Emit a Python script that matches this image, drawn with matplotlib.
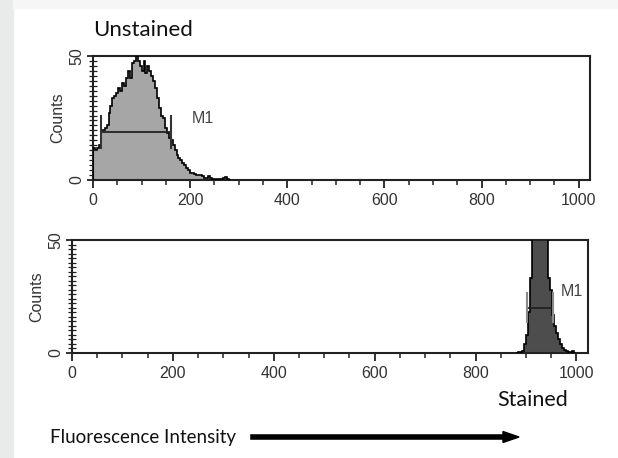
import numpy as np
import matplotlib.pyplot as plt
from matplotlib.ticker import MultipleLocator

# unstained histogram, channel width 4, starting at 0
unstained_start = 0
bin_w = 4
unstained_counts = [13, 12, 13, 14, 20, 20, 21, 22, 27, 30, 33, 34, 35, 37, 36, 39, 38, 41,
                    44, 41, 47, 48, 50, 48, 46, 44, 48, 43, 46, 44, 42, 40, 37, 33, 29, 26,
                    25, 21, 19, 17, 16, 14, 12, 10, 9, 8, 7, 6, 5, 4, 3, 3, 2.5, 2, 2, 2,
                    1.5, 1, 1, 1.5, 1, 0.5, 0.5, 0.3, 0.3, 0.5, 0.5, 0.8, 1.2, 0.3, 0]

# stained histogram, channel width 4, starting at 880
stained_start = 880
stained_counts = [0, 0.5, 0.3, 1, 4, 8, 18, 33, 70, 90, 95, 100, 90, 85, 70, 55, 33, 28,
                  17, 12, 9, 6, 4, 2, 1.5, 0.7, 0.3, 0.3, 1, 0]

# M1 gates: (left, right, height)
m1_unstained = (17, 161, 19.5)
m1_stained = (902, 953, 20)

xticks = [0, 200, 400, 600, 800, 1000]

plt.rcParams['font.family'] = ['Liberation Sans', 'DejaVu Sans']

fig = plt.figure(figsize=(6.18, 4.58), dpi=100)
fig.patch.set_facecolor('white')

# light screenshot border on the left and top
fig.patches.append(plt.Rectangle((0, 0), 13 / 618, 1, color='#e9ebeb',
                                 transform=fig.transFigure, figure=fig, zorder=0))
fig.patches.append(plt.Rectangle((13 / 618, 1 - 8 / 458), 1, 8 / 458, color='#f6f6f6',
                                 transform=fig.transFigure, figure=fig, zorder=0))


def draw_hist(ax, start, counts, fill, gate, gate_col, label_xy):
    edges = start + bin_w * np.arange(len(counts) + 1)
    c = np.array(counts, dtype=float)
    ax.stairs(c, edges, fill=True, color=fill, zorder=2)
    ax.stairs(c, edges, color='black', lw=1.2, zorder=3)
    l, r, h = gate
    ax.plot([l, r], [h, h], color='#222222', lw=1.3, zorder=4)
    ax.plot([l, l], [h - 6.5, h + 6.5], color=gate_col, lw=1.5, zorder=4)
    ax.plot([r, r], [h - 6.5, h + 6.5], color=gate_col, lw=1.5, zorder=4)
    ax.text(label_xy[0], label_xy[1], 'M1', fontsize=11.5, color='#444444',
            ha='center', va='center')
    ax.set_xlim(0, 1023)
    ax.set_ylim(0, 50)
    ax.set_xticks(xticks)
    ax.xaxis.set_minor_locator(MultipleLocator(50))
    ax.set_yticks([0, 50])
    ax.yaxis.set_minor_locator(MultipleLocator(2))
    ax.tick_params(axis='both', which='major', direction='out', length=6, width=1.3,
                   color='#222222', labelcolor='#333333', labelsize=11.5)
    ax.tick_params(axis='x', which='minor', direction='out', length=3.5, width=1.1,
                   color='#222222')
    ax.tick_params(axis='y', which='minor', direction='inout', length=6, width=0.9,
                   color='#222222')
    ax.tick_params(axis='y', which='major', pad=2, direction='inout', length=9)
    for t in ax.get_yticklabels():
        t.set_rotation(90)
        t.set_va('center')
    ax.set_ylabel('Counts', fontsize=11.5, color='#333333', labelpad=3)
    for s in ax.spines.values():
        s.set_linewidth(1.5)
        s.set_color('#222222')


ax1 = fig.add_axes([0.1505, 0.607, 0.804, 0.2707])
draw_hist(ax1, unstained_start, unstained_counts, '#a6a6a6', m1_unstained, '#333333', (227, 25))

ax2 = fig.add_axes([0.1165, 0.2293, 0.835, 0.2467])
draw_hist(ax2, stained_start, stained_counts, '#4d4d4d', m1_stained, '#8a8a8a', (990, 27))

fig.text(93 / 618, 1 - 30 / 458, 'Unstained', fontsize=16, family=['Lato', 'DejaVu Sans'],
         ha='left', va='center', color='#111111')
fig.text(497 / 618, 1 - 400 / 458, 'Stained', fontsize=15.5, family=['Lato', 'DejaVu Sans'],
         ha='left', va='center', color='#111111')
fig.text(50 / 618, 1 - 437 / 458, 'Fluorescence Intensity', fontsize=13.5,
         family=['Lato', 'DejaVu Sans'], ha='left', va='center', color='#111111')
fig.add_artist(plt.Line2D([253 / 618, 506 / 618], [1 - 437 / 458, 1 - 437 / 458],
                          color='black', lw=4, transform=fig.transFigure))
fig.patches.append(plt.Polygon([[503 / 618, 1 - 431.5 / 458], [519 / 618, 1 - 437 / 458],
                                [503 / 618, 1 - 442.5 / 458]], closed=True, color='black',
                               transform=fig.transFigure, figure=fig))

fig.savefig('out.png', dpi=100)
